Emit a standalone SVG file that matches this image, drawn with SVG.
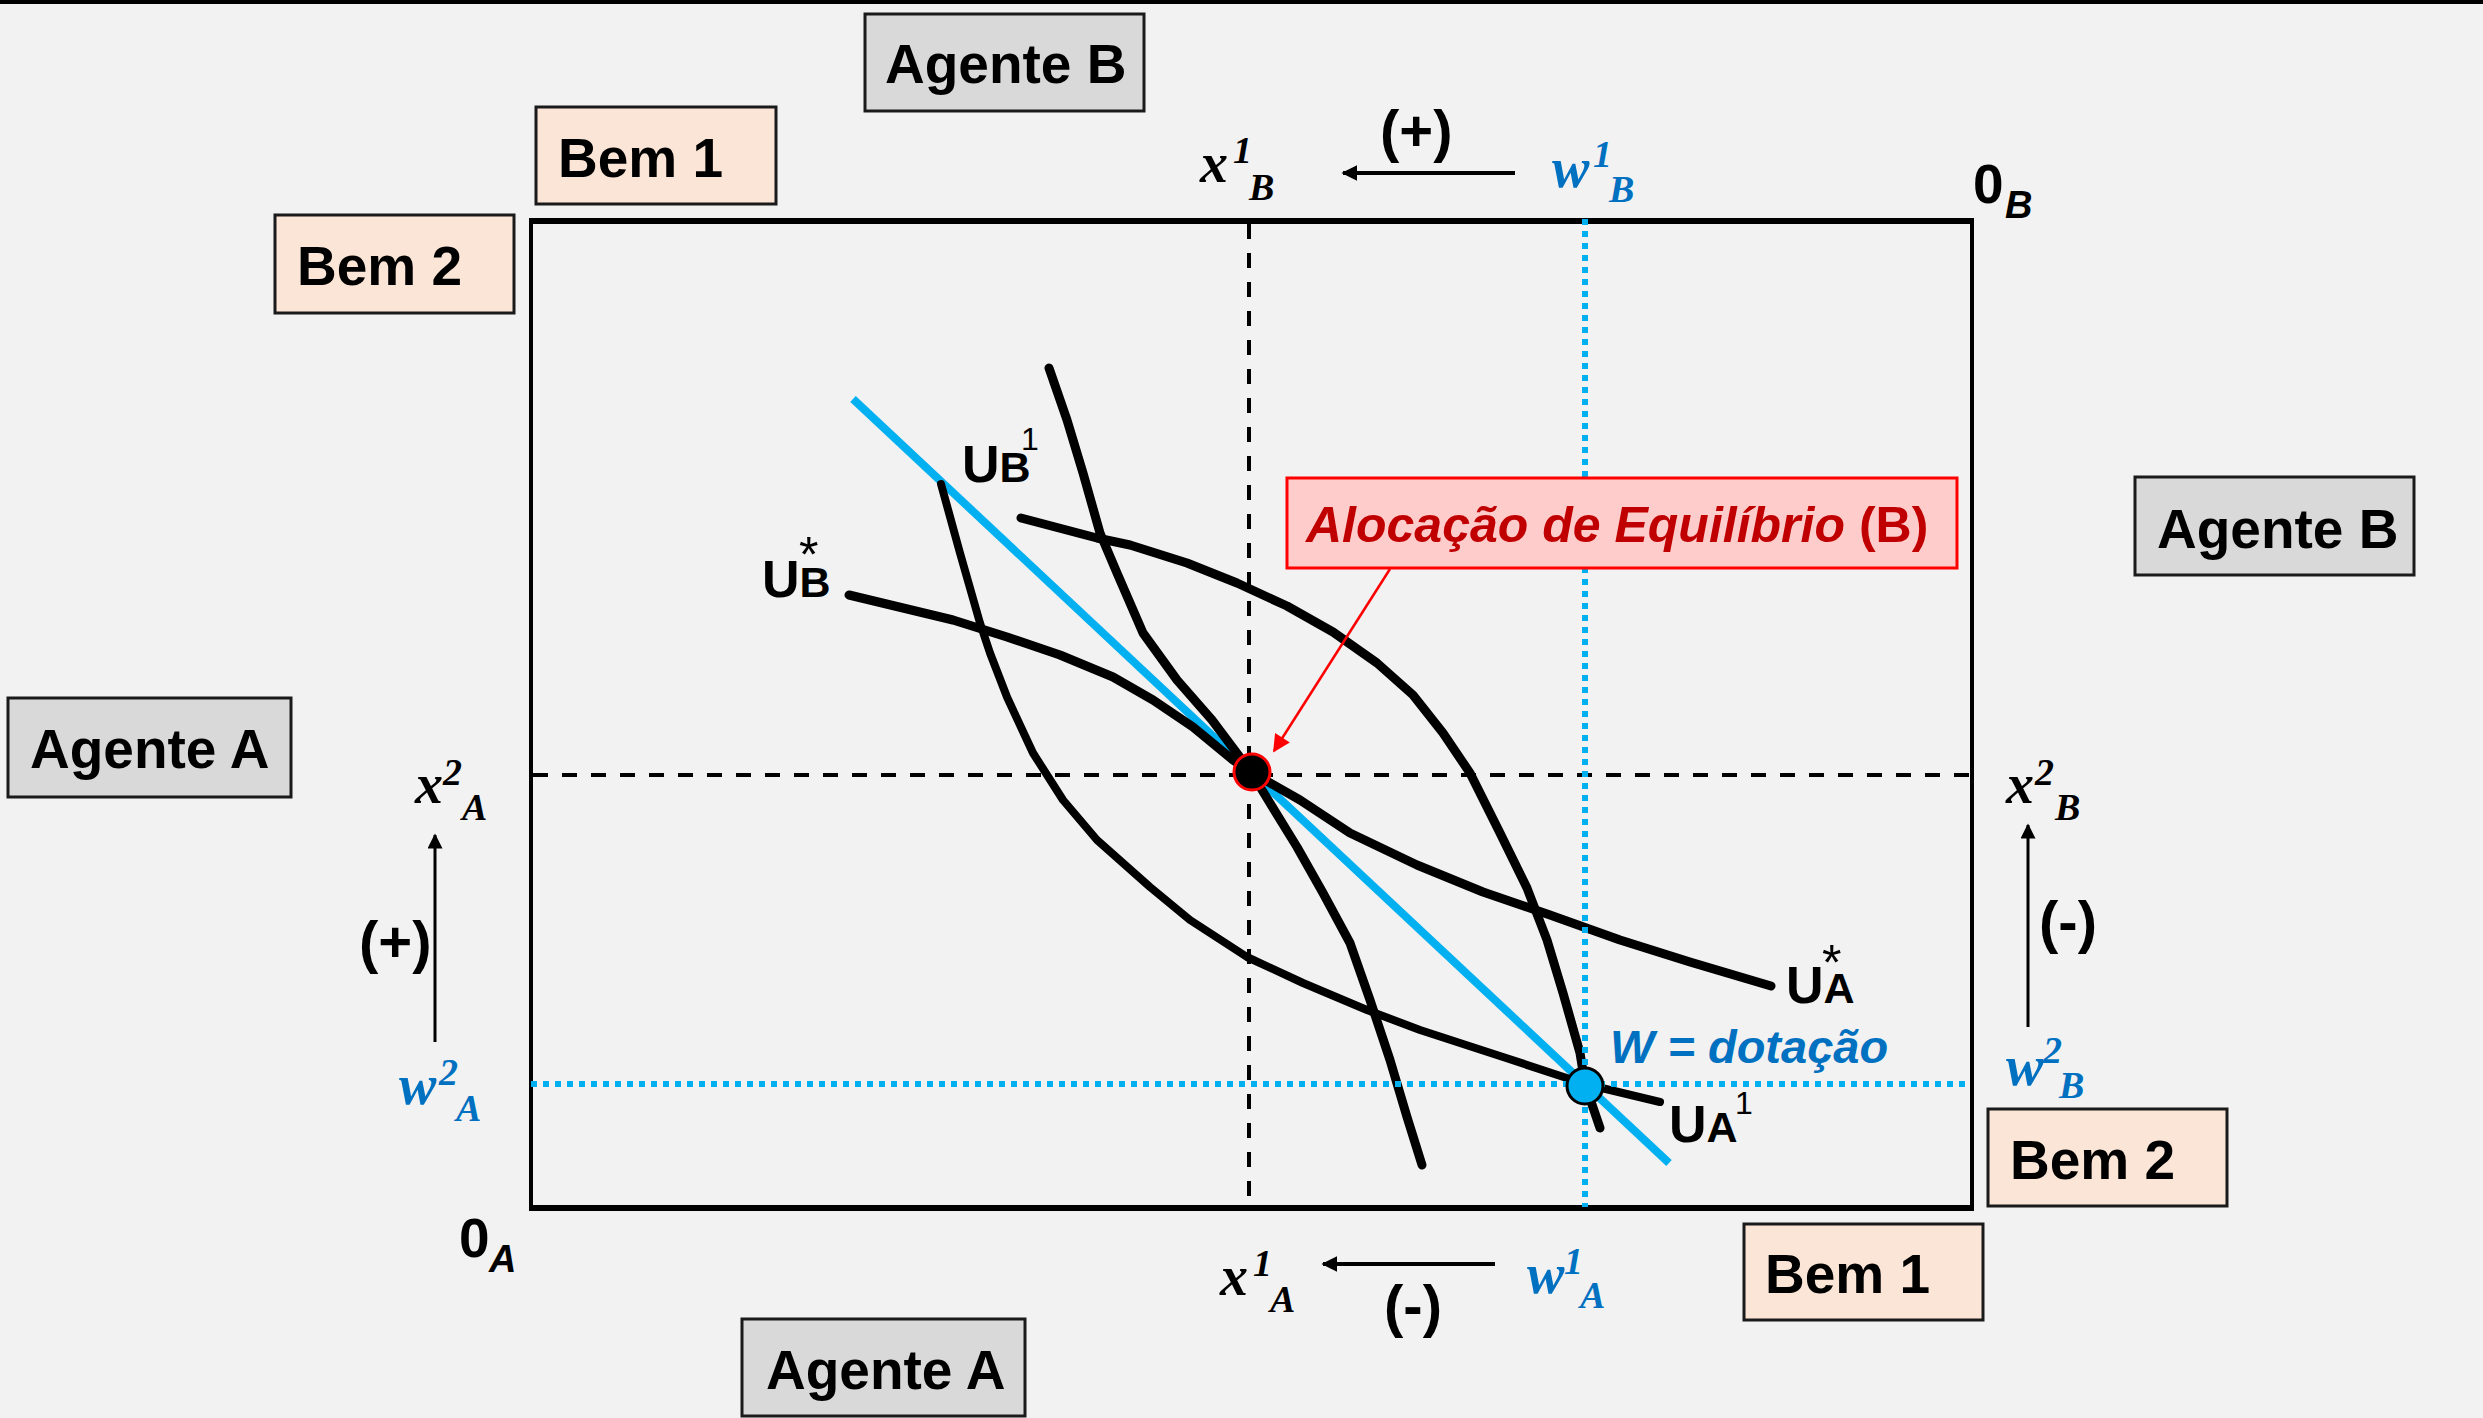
<svg xmlns="http://www.w3.org/2000/svg" width="2483" height="1418" viewBox="0 0 2483 1418">
<defs>
<style>
.box{stroke:#1a1a1a;stroke-width:3}
.gray{fill:#d9d9d9}
.peach{fill:#fbe5d6}
.lbl{font-family:"Liberation Sans",Arial,sans-serif;font-weight:bold;font-size:55px;fill:#000}
.m{font-family:"Liberation Serif","Times New Roman",serif;font-style:italic;font-weight:bold;font-size:56px;fill:#000}
.s{font-size:38px}
.blue{fill:#0070c0}
.paren{font-family:"Liberation Sans",Arial,sans-serif;font-weight:bold;font-size:58px;fill:#000}
.u{font-family:"Liberation Sans",Arial,sans-serif;font-weight:bold;font-size:52px;fill:#000}
.us{font-size:43px}
.sup{font-weight:normal;font-size:32px}
.ast{font-family:"Liberation Sans",Arial,sans-serif;font-weight:normal;font-size:50px;fill:#000}
.curve{fill:none;stroke:#000;stroke-width:9;stroke-linecap:round;stroke-linejoin:round}
.thin{stroke-width:8}
.dash{stroke:#000;stroke-width:4;stroke-dasharray:15 14;fill:none}
.dot{stroke:#00b0f0;stroke-width:6;stroke-dasharray:6 6;fill:none}
.arr{stroke:#000;fill:none}
</style>
<marker id="ah" viewBox="0 0 10 10" refX="9" refY="5" markerWidth="4" markerHeight="4" markerUnits="strokeWidth" orient="auto">
<path d="M0,0 L10,5 L0,10 Z" fill="#000"/>
</marker>
<marker id="ahv" viewBox="0 0 10 10" refX="9" refY="5" markerWidth="7" markerHeight="5" markerUnits="strokeWidth" orient="auto">
<path d="M0,0 L10,5 L0,10 Z" fill="#000"/>
</marker>
<marker id="ahr" viewBox="0 0 10 10" refX="9" refY="5" markerWidth="8" markerHeight="7" markerUnits="strokeWidth" orient="auto">
<path d="M0,0 L10,5 L0,10 Z" fill="#ff0000"/>
</marker>
</defs>
<rect x="0" y="0" width="2483" height="1418" fill="#f2f2f2"/>
<rect x="0" y="0" width="2483" height="4" fill="#000"/>

<g id="frame">
<rect x="531" y="221" width="1441" height="986" fill="none" stroke="#000" stroke-width="4"/>
<line x1="529" y1="221" x2="1974" y2="221" stroke="#000" stroke-width="6"/>
<line x1="529" y1="1208" x2="1974" y2="1208" stroke="#000" stroke-width="6"/>
</g>

<g id="connectors">
<line id="budget-line" x1="853" y1="399" x2="1669" y2="1163" stroke="#00b0f0" stroke-width="8"/>
<polyline id="UA-star" class="curve" points="1049,368 1067,420 1083,473 1100,533 1117,573 1143,633 1177,680 1212,720 1251,772 1300,800 1350,833 1417,865 1483,892 1550,915 1620,940 1690,962 1771,986"/>
<polyline id="UB-star" class="curve" points="849,595 953,620 1007,637 1060,655 1113,677 1153,700 1193,727 1233,760 1251,772 1262,790 1297,847 1323,893 1350,943 1370,1000 1390,1060 1407,1117 1422,1165"/>
<polyline id="UB-1" class="curve" points="1021,518 1097,538 1130,545 1187,563 1237,583 1287,606 1333,632 1377,663 1413,695 1443,733 1470,773 1500,833 1527,888 1547,940 1563,993 1580,1053 1585,1084 1600,1128"/>
<polyline id="UA-1" class="curve thin" points="941,484 960,553 980,623 990,653 1007,697 1033,753 1063,800 1097,840 1150,887 1190,920 1247,957 1303,983 1367,1010 1420,1030 1503,1057 1585,1084 1660,1102"/>
<line class="dash" x1="1249" y1="224" x2="1249" y2="1205"/>
<line class="dash" x1="533" y1="775" x2="1970" y2="775"/>
<line class="dot" x1="1585" y1="219" x2="1585" y2="1207"/>
<line class="dot" x1="531" y1="1084" x2="1970" y2="1084"/>
<line class="arr" stroke-width="4" x1="1515" y1="173" x2="1343" y2="173" marker-end="url(#ah)"/>
<line class="arr" stroke-width="4" x1="1495" y1="1264" x2="1323" y2="1264" marker-end="url(#ah)"/>
<line class="arr" stroke-width="3" x1="435" y1="1042" x2="435" y2="835" marker-end="url(#ahv)"/>
<line class="arr" stroke-width="3" x1="2028" y1="1027" x2="2028" y2="825" marker-end="url(#ahv)"/>
<line x1="1390" y1="569" x2="1274" y2="751" stroke="#ff0000" stroke-width="2.5" marker-end="url(#ahr)"/>
</g>

<g id="equilibrium-point"><circle cx="1252" cy="772" r="18" fill="#000" stroke="#ff0000" stroke-width="3"/></g>
<g id="endowment-point"><circle cx="1585" cy="1086" r="18" fill="#00b0f0" stroke="#000" stroke-width="3"/></g>

<g id="callout">
<rect x="1287" y="478" width="670" height="90" fill="#ffcccc" stroke="#ff0000" stroke-width="3"/>
<text x="1306" y="542" font-family="Liberation Sans, Arial, sans-serif" font-weight="bold" font-size="50" fill="#c00000"><tspan font-style="italic">Alocação de Equilíbrio </tspan>(B)</text>
</g>

<g id="agente-b-top"><rect class="box gray" x="865" y="14" width="279" height="97"/><text class="lbl" x="885" y="83">Agente B</text></g>
<g id="bem1-top"><rect class="box peach" x="536" y="107" width="240" height="97"/><text class="lbl" x="558" y="177">Bem 1</text></g>
<g id="bem2-left"><rect class="box peach" x="275" y="215" width="239" height="98"/><text class="lbl" x="297" y="285">Bem 2</text></g>
<g id="agente-a-left"><rect class="box gray" x="8" y="698" width="283" height="99"/><text class="lbl" x="30" y="768">Agente A</text></g>
<g id="agente-b-right"><rect class="box gray" x="2135" y="477" width="279" height="98"/><text class="lbl" x="2157" y="548">Agente B</text></g>
<g id="bem2-right"><rect class="box peach" x="1988" y="1109" width="239" height="97"/><text class="lbl" x="2010" y="1179">Bem 2</text></g>
<g id="bem1-bottom"><rect class="box peach" x="1744" y="1224" width="239" height="96"/><text class="lbl" x="1765" y="1293">Bem 1</text></g>
<g id="agente-a-bottom"><rect class="box gray" x="742" y="1319" width="283" height="97"/><text class="lbl" x="766" y="1389">Agente A</text></g>

<g id="labels">
<text class="m" x="1200" y="182">x<tspan class="s" x="1233" y="163">1</tspan><tspan class="s" x="1249" y="200">B</tspan></text>
<text class="m blue" x="1552" y="187">w<tspan class="s" x="1593" y="167">1</tspan><tspan class="s" x="1609" y="202">B</tspan></text>
<text class="paren" x="1380" y="151">(+)</text>
<text class="lbl" x="1973" y="203">0<tspan font-style="italic" font-size="38" x="2005" y="218">B</tspan></text>
<text class="lbl" x="459" y="1257">0<tspan font-style="italic" font-size="38" x="489" y="1272">A</tspan></text>
<text class="m" x="415" y="803">x<tspan class="s" x="443" y="785">2</tspan><tspan class="s" x="462" y="820">A</tspan></text>
<text class="paren" x="359" y="962">(+)</text>
<text class="m blue" x="399" y="1104">w<tspan class="s" x="439" y="1085">2</tspan><tspan class="s" x="456" y="1121">A</tspan></text>
<text class="m" x="2006" y="803">x<tspan class="s" x="2035" y="785">2</tspan><tspan class="s" x="2055" y="820">B</tspan></text>
<text class="paren" x="2039" y="942">(-)</text>
<text class="m blue" x="2006" y="1085">w<tspan class="s" x="2043" y="1063">2</tspan><tspan class="s" x="2059" y="1098">B</tspan></text>
<text class="m" x="1220" y="1295">x<tspan class="s" x="1253" y="1276">1</tspan><tspan class="s" x="1270" y="1312">A</tspan></text>
<text class="paren" x="1384" y="1326">(-)</text>
<text class="m blue" x="1527" y="1293">w<tspan class="s" x="1564" y="1274">1</tspan><tspan class="s" x="1580" y="1308">A</tspan></text>
<text x="1610" y="1063" font-family="Liberation Sans, Arial, sans-serif" font-weight="bold" font-style="italic" font-size="47" fill="#0070c0">W = dotação</text>
<text class="u" x="962" y="482">U<tspan class="us">B</tspan><tspan class="sup" x="1021" y="450">1</tspan></text>
<text class="u" x="762" y="597">U<tspan class="us">B</tspan></text>
<text class="ast" x="799" y="572">*</text>
<text class="u" x="1786" y="1003">U<tspan class="us">A</tspan></text>
<text class="ast" x="1822" y="980">*</text>
<text class="u" x="1669" y="1142">U<tspan class="us">A</tspan><tspan class="sup" x="1735" y="1114">1</tspan></text>
</g>
</svg>
